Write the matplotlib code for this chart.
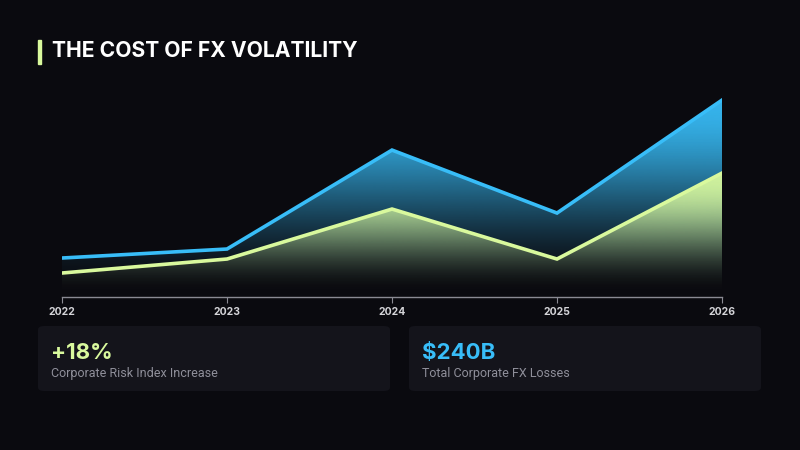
import numpy as np
import matplotlib.pyplot as plt
from matplotlib.patches import FancyBboxPatch, Rectangle
from matplotlib.colors import to_rgb

# data
years = ['2022', '2023', '2024', '2025', '2026']
fx_losses = [19.5, 24, 73.5, 42, 98.5]
risk_index = [12, 19, 44, 19, 62]

BG = '#0a0a0f'
BLUE = '#38bdf8'
LIME = '#d9f99d'

plt.rcParams['font.family'] = ['Inter', 'DejaVu Sans']

fig = plt.figure(figsize=(8, 4.5), dpi=100, facecolor=BG)
ax = fig.add_axes([0.0775, 0.34, 0.825, 0.482])
ax.set_facecolor(BG)

x = np.arange(len(years))
ymax = 108.5


def gradient_area(vals, color, a_top=0.95):
    poly = ax.fill_between(x, 0, vals, color='none', lw=0)
    top = max(vals)
    t = np.linspace(0, 1, 256)
    rgba = np.zeros((256, 1, 4))
    rgba[:, 0, :3] = to_rgb(color)
    rgba[:, 0, 3] = a_top * (3 * t ** 2 - 2 * t ** 3) ** 1.1
    im = ax.imshow(rgba, extent=[x[0], x[-1], 0, top], origin='lower',
                   aspect='auto', interpolation='bilinear', zorder=2)
    path = poly.get_paths()[0]
    im.set_clip_path(path, transform=ax.transData)
    ax.plot(x, vals, color=color, lw=2.6, zorder=3, solid_joinstyle='miter')


gradient_area(fx_losses, BLUE)
gradient_area(risk_index, LIME)

ax.set_xlim(x[0], x[-1])
ax.set_ylim(0, ymax)
for s in ['top', 'right', 'left']:
    ax.spines[s].set_visible(False)
ax.spines['bottom'].set_color('#8a8a93')
ax.spines['bottom'].set_linewidth(1)
ax.set_yticks([])
ax.set_xticks(x)
ax.set_xticklabels(years, fontsize=7.5, fontweight='bold', color='#d4d4d8')
ax.tick_params(axis='x', length=4, color='#8a8a93', pad=3)
for lbl in ax.get_xticklabels():
    lbl.set_clip_on(False)

# title
fig.patches.append(Rectangle((38 / 800, 1 - 64 / 450), 3 / 800, 24 / 450,
                             transform=fig.transFigure, color=LIME))
fig.text(52 / 800, 1 - 51 / 450, 'THE COST OF FX VOLATILITY', color='white',
         fontsize=15.2, fontweight='bold', va='center', ha='left')

# stat cards
cards = [
    (38, '+18%', 'Corporate Risk Index Increase', LIME),
    (409, '$240B', 'Total Corporate FX Losses', BLUE),
]
for cx, big, small, col in cards:
    w, h = 352, 65
    fig.patches.append(FancyBboxPatch((cx / 800, 1 - 391 / 450), w / 800, h / 450,
                                      boxstyle='round,pad=0,rounding_size=0.008',
                                      transform=fig.transFigure,
                                      facecolor='#14141b', edgecolor='none'))
    fig.text((cx + 13) / 800, 1 - 353 / 450, big, color=col, fontsize=16,
             fontweight='bold', va='center', ha='left')
    fig.text((cx + 13) / 800, 1 - 374 / 450, small, color='#8f8f9a', fontsize=9,
             va='center', ha='left', family=['Roboto', 'DejaVu Sans'])

fig.savefig('out.png', dpi=100, facecolor=BG)
